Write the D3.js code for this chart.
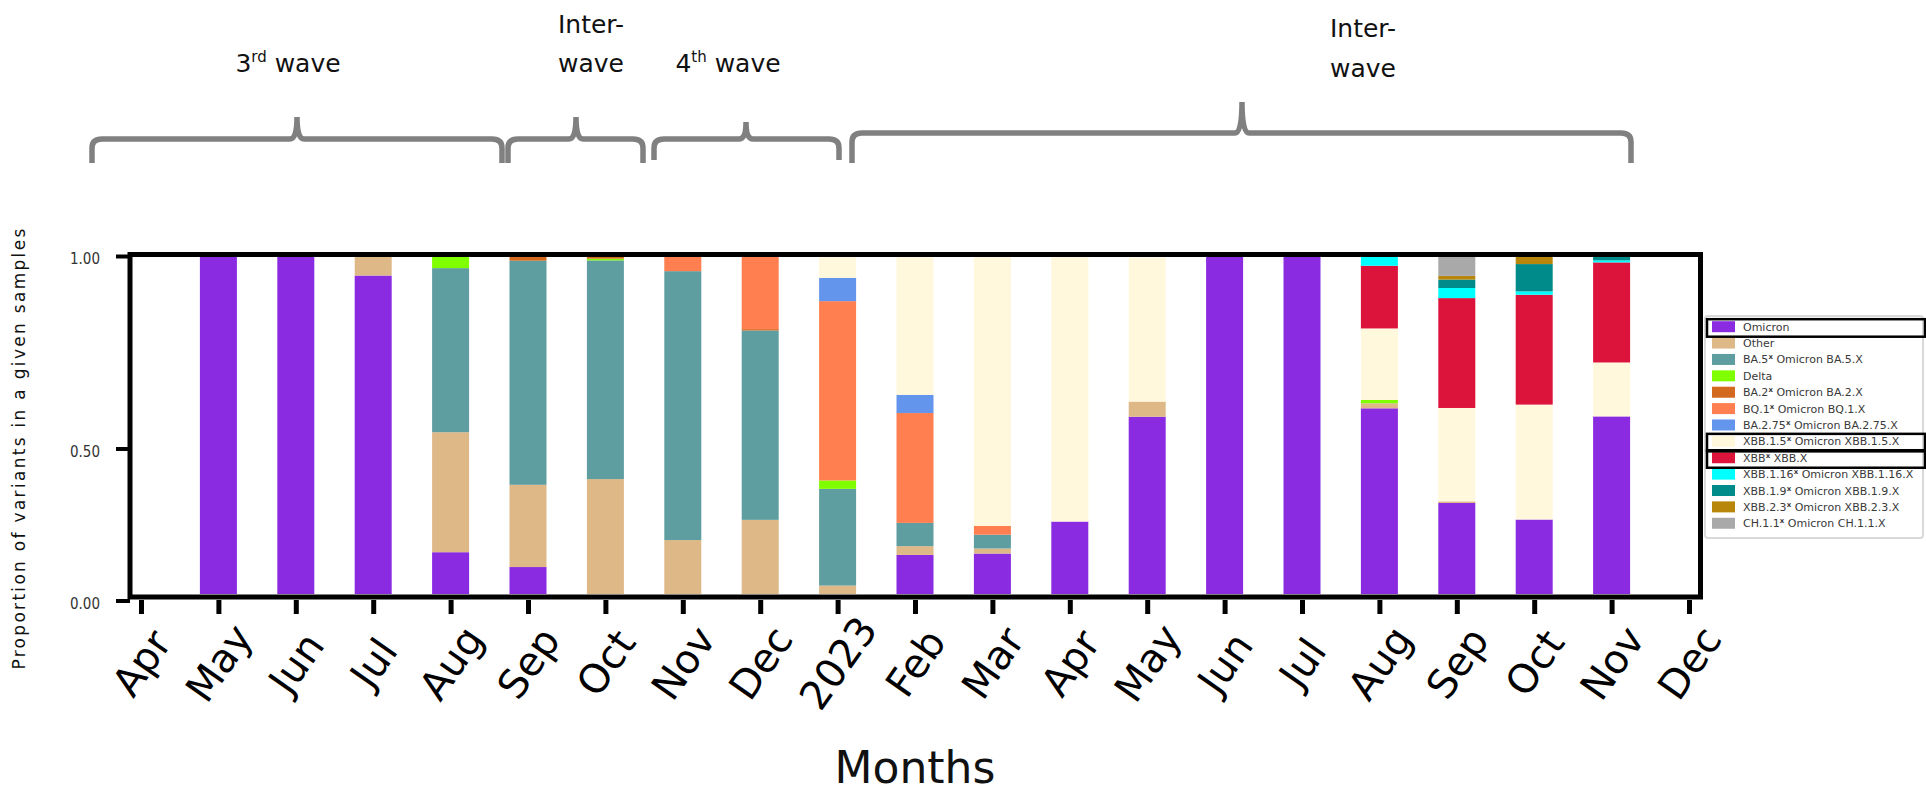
<!DOCTYPE html>
<html>
<head>
<meta charset="utf-8">
<script src="https://cdn.jsdelivr.net/npm/d3@7"></script>
<style>
  html, body { margin: 0; background: #fff; }
  svg { display: block; }
</style>
</head>
<body>
<svg id="chart" width="1926" height="794"></svg>
<script>
// Sampling months (Apr 2022 – Dec 2023)
const months = ["Apr","May","Jun","Jul","Aug","Sep","Oct","Nov","Dec","2023","Feb","Mar","Apr","May","Jun","Jul","Aug","Sep","Oct","Nov","Dec"];

// Proportion of each variant per month (stacked bottom to top)
const omicron = [0, 1, 1, 0.945, 0.124, 0.080, 0, 0, 0, 0, 0.116, 0.120, 0.215, 0.526, 1, 1, 0.551, 0.270, 0.221, 0.527, 0];
const other   = [0, 0, 0, 0.055, 0.356, 0.244, 0.341, 0.160, 0.220, 0.025, 0.026, 0.015, 0, 0.045, 0, 0, 0.015, 0.005, 0, 0, 0];
const ba5     = [0, 0, 0, 0, 0.487, 0.665, 0.649, 0.798, 0.562, 0.287, 0.069, 0.041, 0, 0, 0, 0, 0, 0, 0, 0, 0];
const delta   = [0, 0, 0, 0, 0.033, 0, 0.005, 0, 0, 0.025, 0, 0, 0, 0, 0, 0, 0.010, 0, 0, 0, 0];
const ba2     = [0, 0, 0, 0, 0, 0.011, 0.005, 0, 0.004, 0, 0, 0, 0, 0, 0, 0, 0, 0, 0, 0, 0];
const bq1     = [0, 0, 0, 0, 0, 0, 0, 0.042, 0.214, 0.532, 0.326, 0.026, 0, 0, 0, 0, 0, 0, 0, 0, 0];
const ba275   = [0, 0, 0, 0, 0, 0, 0, 0, 0, 0.069, 0.054, 0, 0, 0, 0, 0, 0, 0, 0, 0, 0];
const xbb15   = [0, 0, 0, 0, 0, 0, 0, 0, 0, 0.062, 0.409, 0.799, 0.785, 0.428, 0, 0, 0.212, 0.277, 0.341, 0.160, 0];
const xbb     = [0, 0, 0, 0, 0, 0, 0, 0, 0, 0, 0, 0, 0, 0, 0, 0, 0.186, 0.326, 0.326, 0.297, 0];
const xbb116  = [0, 0, 0, 0, 0, 0, 0, 0, 0, 0, 0, 0, 0, 0, 0, 0, 0.027, 0.030, 0.010, 0.006, 0];
const xbb19   = [0, 0, 0, 0, 0, 0, 0, 0, 0, 0, 0, 0, 0, 0, 0, 0, 0, 0.025, 0.081, 0.010, 0];
const xbb23   = [0, 0, 0, 0, 0, 0, 0, 0, 0, 0, 0, 0, 0, 0, 0, 0, 0, 0.011, 0.021, 0, 0];
const ch11    = [0, 0, 0, 0, 0, 0, 0, 0, 0, 0, 0, 0, 0, 0, 0, 0, 0, 0.056, 0, 0, 0];

const variantKeys   = ["Omicron","Other","BA.5","Delta","BA.2","BQ.1","BA.2.75","XBB.1.5","XBB","XBB.1.16","XBB.1.9","XBB.2.3","CH.1.1"];
const variantSeries = [omicron, other, ba5, delta, ba2, bq1, ba275, xbb15, xbb, xbb116, xbb19, xbb23, ch11];
const variantColors = ["#8A2BE2","#DEB887","#5F9EA0","#7FFF00","#D2691E","#FF7F50","#6495ED","#FFF8DC","#DC143C","#00FFFF","#008B8B","#B8860B","#A9A9A9"];
const legendTails   = ["","","Omicron BA.5.X","","Omicron BA.2.X","Omicron BQ.1.X","Omicron BA.2.75.X","Omicron XBB.1.5.X","XBB.X","Omicron XBB.1.16.X","Omicron XBB.1.9.X","Omicron XBB.2.3.X","Omicron CH.1.1.X"];
const legendBoxed   = ["Omicron","XBB.1.5","XBB"];

const yTickValues = [0, 0.5, 1];

// Epidemic periods shown above the plot (label lines; "|" marks a superscript)
const periodLabels = [["3|rd| wave"], ["Inter-", "wave"], ["4|th| wave"], ["Inter-", "wave"]];

const svg = d3.select("#chart");
const FONT = "'DejaVu Sans', Verdana, sans-serif";

// ---- scales ----
const x = d3.scalePoint().domain(d3.range(months.length)).range([141, 1689]);
const y = d3.scaleLinear().domain([0, 1]).range([594, 257]);
const yAxisPos = d3.scaleLinear().domain([0, 0.5, 1]).range([600.5, 448.5, 256]);
const color = d3.scaleOrdinal().domain(variantKeys).range(variantColors);
const barW = 37;

// ---- stacked bars ----
const table = months.map((m, i) => {
  const row = { idx: i };
  variantKeys.forEach((k, j) => row[k] = variantSeries[j][i]);
  return row;
});
const stacked = d3.stack().keys(variantKeys)(table);

svg.append("g").selectAll("g")
  .data(stacked)
  .join("g")
  .attr("fill", d => color(d.key))
  .selectAll("rect")
  .data(d => d.filter(s => s[1] - s[0] > 0))
  .join("rect")
  .attr("x", d => x(d.data.idx) - barW / 2)
  .attr("width", barW)
  .attr("y", d => y(d[1]))
  .attr("height", d => y(d[0]) - y(d[1]));

// ---- plot frame ----
svg.append("rect")
  .attr("x", 130).attr("y", 254.5)
  .attr("width", 1570.5).attr("height", 342.5)
  .attr("fill", "none").attr("stroke", "#000").attr("stroke-width", 5);

// ---- y axis ----
const yAxis = svg.append("g")
  .attr("transform", "translate(130,0)")
  .call(d3.axisLeft(yAxisPos).tickValues(yTickValues).tickSize(14).tickPadding(16).tickFormat(d3.format(".2f")));
yAxis.select(".domain").remove();
yAxis.selectAll(".tick line").attr("stroke", "#000").attr("stroke-width", 4);
yAxis.selectAll(".tick text")
  .attr("font-family", "'Liberation Sans Narrow', 'DejaVu Sans Condensed', 'Arial Narrow', sans-serif")
  .attr("font-size", 15).attr("fill", "#333").attr("dy", "0.5em");

// ---- x axis ----
const xAxis = svg.append("g")
  .attr("transform", "translate(0,600)")
  .call(d3.axisBottom(x).tickSize(14).tickFormat(i => months[i]));
xAxis.select(".domain").remove();
xAxis.selectAll(".tick line").attr("stroke", "#000").attr("stroke-width", 5);
xAxis.selectAll(".tick text")
  .attr("y", 0).attr("dy", "0.35em")
  .attr("transform", "translate(0,63) rotate(-55)")
  .attr("text-anchor", "middle")
  .attr("font-family", FONT).attr("font-size", 40).attr("fill", "#000");

// ---- axis titles ----
svg.append("text")
  .attr("transform", "translate(25,448) rotate(-90)")
  .attr("text-anchor", "middle")
  .attr("font-family", FONT).attr("font-size", 17)
  .attr("letter-spacing", 2.3).attr("fill", "#111")
  .text("Proportion of variants in a given samples");

svg.append("text")
  .attr("x", 915).attr("y", 783)
  .attr("text-anchor", "middle")
  .attr("font-family", FONT).attr("font-size", 44).attr("fill", "#111")
  .text("Months");

// ---- legend ----
const legend = svg.append("g");
const rowY = i => 326.7 + i * 16.38;
legend.append("rect")
  .attr("x", 1705).attr("y", 316).attr("width", 218).attr("height", 222)
  .attr("rx", 3).attr("fill", "#fff").attr("stroke", "#d9d9d9").attr("stroke-width", 2);
const rows = legend.selectAll("g.row").data(variantKeys).join("g").attr("class", "row");
rows.append("rect")
  .attr("x", 1712).attr("y", (d, i) => rowY(i) - 5.5)
  .attr("width", 23).attr("height", 11)
  .attr("fill", d => color(d));
const lt = rows.append("text")
  .attr("x", 1743).attr("y", (d, i) => rowY(i) + 4)
  .attr("font-family", FONT).attr("font-size", 11).attr("fill", "#3a3a3a");
lt.append("tspan").text(d => d);
lt.filter((d, i) => legendTails[i] !== "").each(function(d) {
  const i = variantKeys.indexOf(d);
  const t = d3.select(this);
  t.append("tspan").attr("font-size", 7).attr("dy", -4).attr("font-weight", "bold").text("x");
  t.append("tspan").attr("dy", 4).text(" " + legendTails[i]);
});
legend.selectAll("rect.box")
  .data(legendBoxed)
  .join("rect").attr("class", "box")
  .attr("x", 1707).attr("y", d => rowY(variantKeys.indexOf(d)) - 7.5)
  .attr("width", 218).attr("height", 17.5)
  .attr("fill", "none").attr("stroke", "#000").attr("stroke-width", 2.5);

// ---- period brackets ----
const brackets = [
  { left: 92,  right: 502,  mid: 297,  bar: 139, foot: 163, peak: 117, tx: 288,  lines: periodLabels[0], base: [72] },
  { left: 508, right: 643,  mid: 576,  bar: 139, foot: 163, peak: 117, tx: 591,  lines: periodLabels[1], base: [33, 72] },
  { left: 654, right: 839,  mid: 746,  bar: 139, foot: 160, peak: 122, tx: 728,  lines: periodLabels[2], base: [72] },
  { left: 852, right: 1631, mid: 1242, bar: 133, foot: 163, peak: 102, tx: 1363, lines: periodLabels[3], base: [37, 77] }
];
const bracketPath = b => {
  const p = d3.path();
  p.moveTo(b.left, b.foot);
  p.lineTo(b.left, b.bar + 9);
  p.quadraticCurveTo(b.left, b.bar, b.left + 10, b.bar);
  p.lineTo(b.mid - 7, b.bar);
  p.quadraticCurveTo(b.mid, b.bar, b.mid, b.peak);
  p.quadraticCurveTo(b.mid, b.bar, b.mid + 7, b.bar);
  p.lineTo(b.right - 10, b.bar);
  p.quadraticCurveTo(b.right, b.bar, b.right, b.bar + 9);
  p.lineTo(b.right, b.foot);
  return p.toString();
};
const bg = svg.append("g");
bg.selectAll("path").data(brackets).join("path")
  .attr("d", bracketPath)
  .attr("fill", "none").attr("stroke", "#808080").attr("stroke-width", 5.5);

brackets.forEach(b => {
  b.lines.forEach((line, k) => {
    const t = bg.append("text")
      .attr("x", b.tx).attr("y", b.base[k])
      .attr("text-anchor", "middle")
      .attr("font-family", FONT).attr("font-size", 25).attr("fill", "#111");
    const parts = line.split("|");
    if (parts.length === 3) {
      t.append("tspan").text(parts[0]);
      t.append("tspan").attr("font-size", 15).attr("dy", -10).text(parts[1]);
      t.append("tspan").attr("dy", 10).text(parts[2]);
    } else {
      t.text(line);
    }
  });
});
</script>
</body>
</html>
